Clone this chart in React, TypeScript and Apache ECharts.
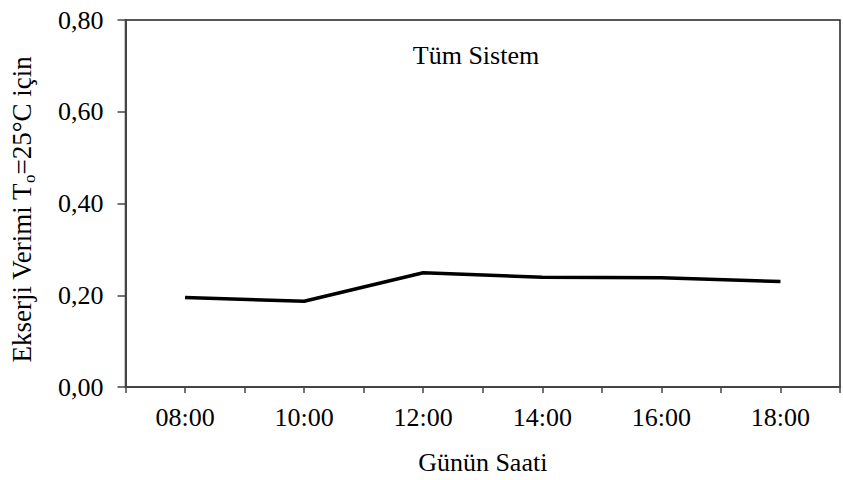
import React, { useEffect, useRef } from "react";
import * as echarts from "echarts";

const hours = [8, 10, 12, 14, 16, 18];
const hourLabels = ["08:00", "10:00", "12:00", "14:00", "16:00", "18:00"];
const efficiency = [0.195, 0.187, 0.249, 0.239, 0.238, 0.23];
const yTicks = [0, 0.2, 0.4, 0.6, 0.8];
const seriesTitle = "Tüm Sistem";
const xAxisName = "Günün Saati";

const FONT = "'Liberation Serif', 'Times New Roman', serif";
const FS = 26;

export default function App() {
  const ref = useRef<HTMLDivElement>(null);
  useEffect(() => {
    if (!ref.current) return;
    const chart = echarts.init(ref.current, undefined, { renderer: "svg" });
    const data = hours.map((h, i) => [h, efficiency[i]]);
    chart.setOption({
      animation: false,
      backgroundColor: "#ffffff",
      grid: {
        left: 122,
        top: 20,
        bottom: 92,
        right: -6,
        show: true,
        borderColor: "#222",
        borderWidth: 1.5,
        containLabel: false,
      },
      graphic: [
        {
          type: "text",
          x: 476,
          y: 55,
          style: {
            text: seriesTitle,
            font: `${FS}px ${FONT}`,
            fill: "#000",
            textAlign: "center",
            textVerticalAlign: "middle",
          },
        },
      ],
      xAxis: {
        type: "value",
        min: 7,
        max: 19,
        interval: 1,
        name: xAxisName,
        nameLocation: "middle",
        nameGap: 62,
        nameTextStyle: { fontFamily: FONT, fontSize: FS, color: "#000" },
        axisLine: { show: true, lineStyle: { color: "#444", width: 2 } },
        axisTick: { show: true, length: 6, lineStyle: { color: "#444", width: 1.5 } },
        splitLine: { show: false },
        axisLabel: {
          margin: 17,
          fontFamily: FONT,
          fontSize: FS,
          color: "#000",
          showMinLabel: true,
          showMaxLabel: true,
          formatter: (v: number) => {
            const i = hours.indexOf(v);
            return i >= 0 ? hourLabels[i] : "";
          },
        },
      },
      yAxis: {
        type: "value",
        min: yTicks[0],
        max: yTicks[yTicks.length - 1],
        interval: 0.2,
        name: "{a|Ekserji Verimi T}{b|o}{a|=25°C için}",
        nameLocation: "middle",
        nameGap: 88,
        nameRotate: 90,
        nameTextStyle: {
          fontFamily: FONT,
          fontSize: 27,
          color: "#000",
          padding: [0, 12, 0, 0],
          rich: {
            a: { fontFamily: FONT, fontSize: 27, color: "#000", lineHeight: 32, verticalAlign: "middle" },
            b: { fontFamily: FONT, fontSize: 17, color: "#000", lineHeight: 17, verticalAlign: "bottom" },
          },
        },
        axisLine: { show: true, lineStyle: { color: "#444", width: 2 } },
        axisTick: { show: true, length: 8, lineStyle: { color: "#444", width: 1.5 } },
        splitLine: { show: false },
        axisLabel: {
          margin: 22,
          fontFamily: FONT,
          fontSize: FS,
          color: "#000",
          formatter: (v: number) => v.toFixed(2).replace(".", ","),
        },
      },
      series: [
        {
          type: "line",
          data,
          symbol: "none",
          lineStyle: { color: "#000", width: 3.5 },
        },
      ],
    });
    return () => chart.dispose();
  }, []);
  return (
    <div
      ref={ref}
      style={{ position: "fixed", left: 0, top: 0, width: 843, height: 480 }}
    />
  );
}
